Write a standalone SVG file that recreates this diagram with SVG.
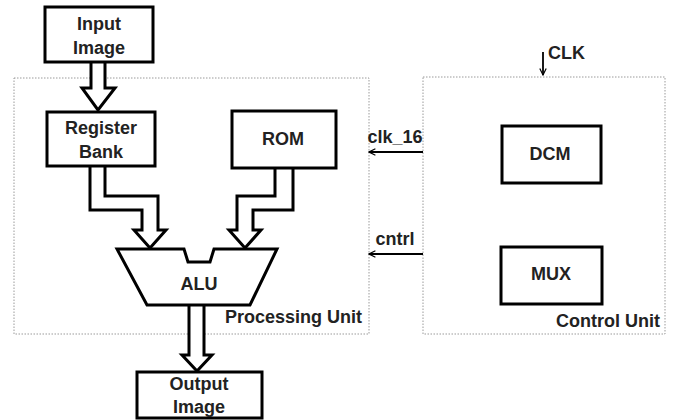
<svg xmlns="http://www.w3.org/2000/svg" width="675" height="420" viewBox="0 0 675 420">
<style>
.box{fill:#fff;stroke:#000;stroke-width:3}
.unit{fill:none;stroke:#9a9a9a;stroke-width:1;stroke-dasharray:1.5 1.5}
.bus{fill:#fff;stroke:#000;stroke-width:3;stroke-linejoin:miter}
.sig{fill:none;stroke:#000;stroke-width:1.8}
.t{font-family:"Liberation Sans",Arial,sans-serif;font-weight:bold;font-size:18px;fill:#222;text-anchor:middle}
.l{text-anchor:start}
.r{text-anchor:end}
</style>
<defs>
<marker id="ah" viewBox="0 0 10 10" refX="9" refY="5" markerWidth="8" markerHeight="8" orient="auto" markerUnits="userSpaceOnUse">
<path d="M1,1 L9,5 L1,9" fill="none" stroke="#000" stroke-width="1.5"/>
</marker>
</defs>
<rect width="675" height="420" fill="#fff"/>
<g id="processing-unit">
<rect class="unit" x="14" y="78" width="355" height="256"/>
<text class="t r" x="362" y="323">Processing Unit</text>
</g>
<g id="control-unit">
<rect class="unit" x="423" y="77" width="242" height="257"/>
<text class="t r" x="660" y="327">Control Unit</text>
</g>
<g id="connectors">
<path class="bus" d="M91,62 V88 H82 L98,110 L115,88 H105 V62"/>
<path class="bus" d="M90,166 V210 H142 V230 H134 L150,248 L166,230 H158 V196 H105 V166"/>
<path class="bus" d="M275,168 V196 H237 V230 H229 L245,248 L261,230 H253 V210 H293 V168"/>
<path class="bus" d="M189,305 V355 H182 L197,371 L212,355 H204 V305"/>
<path class="sig" d="M543,52 V75" marker-end="url(#ah)"/>
<path class="sig" d="M423,152 H369" marker-end="url(#ah)"/>
<path class="sig" d="M423,254 H369" marker-end="url(#ah)"/>
<text class="t l" x="548" y="59">CLK</text>
<text class="t" x="395" y="143">clk_16</text>
<text class="t" x="395" y="245">cntrl</text>
</g>
<g id="input-image">
<rect class="box" x="45" y="7" width="108" height="55"/>
<text class="t" x="99" y="30">Input</text>
<text class="t" x="99" y="54">Image</text>
</g>
<g id="register-bank">
<rect class="box" x="47" y="112" width="108" height="54"/>
<text class="t" x="101" y="134">Register</text>
<text class="t" x="101" y="158">Bank</text>
</g>
<g id="rom">
<rect class="box" x="232" y="111" width="104" height="57"/>
<text class="t" x="283" y="145">ROM</text>
</g>
<g id="alu">
<path class="box" d="M117,249 H184 L188,262 H210 L214,249 H277 L250,305 H147 Z"/>
<text class="t" x="199" y="290">ALU</text>
</g>
<g id="output-image">
<rect class="box" x="137" y="372" width="125" height="46"/>
<text class="t" x="199" y="390">Output</text>
<text class="t" x="199" y="413">Image</text>
</g>
<g id="dcm">
<rect class="box" x="502" y="126" width="99" height="57"/>
<text class="t" x="550" y="160">DCM</text>
</g>
<g id="mux">
<rect class="box" x="501" y="247" width="101" height="57"/>
<text class="t" x="551" y="280">MUX</text>
</g>
</svg>
